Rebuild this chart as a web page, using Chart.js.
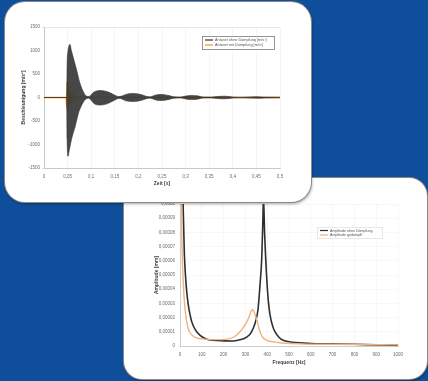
<!DOCTYPE html>
<html>
<head>
<meta charset="utf-8">
<script src="https://cdn.jsdelivr.net/npm/chart.js@4/dist/chart.umd.min.js"></script>
<style>
  html, body { margin: 0; padding: 0; }
  body { width: 428px; height: 381px; background: #0f4e9b; position: relative; overflow: hidden; }
  .card { position: absolute; background: #fff; box-shadow: 0 0 0 1px #8a8a8a, 1px 2px 3px rgba(0,0,0,0.35); }
  #cardTime { left: 5px; top: 2px; width: 306px; height: 200px; border-radius: 20px; z-index: 2; }
  #cardFreq { left: 124px; top: 178px; width: 303px; height: 201px; border-radius: 18px; z-index: 1; }
  .card canvas { position: absolute; left: 0; top: 0; }
</style>
</head>
<body>
<div class="card" id="cardFreq"><canvas id="freqChart" width="303" height="201"></canvas></div>
<div class="card" id="cardTime"><canvas id="timeChart" width="306" height="200"></canvas></div>

<script>
/* ── Data: time response ── */
const timeS     = [0, 0.048, 0.049, 0.051, 0.053, 0.055, 0.058, 0.062, 0.066, 0.070, 0.074, 0.078, 0.082, 0.086, 0.090,
                   0.095, 0.100, 0.105, 0.112, 0.120, 0.128, 0.135, 0.142, 0.150, 0.158, 0.165, 0.172, 0.180, 0.190,
                   0.200, 0.210, 0.218, 0.226, 0.234, 0.245, 0.255, 0.265, 0.275, 0.290, 0.300, 0.312, 0.325, 0.337,
                   0.355, 0.366, 0.383, 0.400, 0.420, 0.436, 0.452, 0.468, 0.500];
const darkUpper = [0, 0, 700, 1000, 1100, 1130, 1000, 850, 700, 550, 380, 250, 150, 70, 30,
                   20, 60, 110, 140, 150, 140, 120, 90, 50, 20, 30, 60, 80, 85,
                   75, 50, 20, 15, 45, 65, 60, 40, 15, 10, 30, 45, 35, 10,
                   8, 20, 28, 10, 6, 12, 16, 8, 5];
const darkLower = [0, 0, -900, -1250, -1150, -1050, -900, -750, -620, -450, -300, -200, -120, -60, -25,
                   -15, -60, -120, -155, -160, -150, -130, -95, -55, -20, -30, -65, -80, -85,
                   -75, -50, -20, -15, -45, -65, -60, -40, -15, -10, -30, -45, -35, -10,
                   -8, -20, -28, -10, -6, -12, -16, -8, -5];
const orangeT   = [0, 0.047, 0.0482, 0.0486, 0.049, 0.0494, 0.0498, 0.0502, 0.0506, 0.051, 0.0514, 0.0518, 0.0522,
                   0.0527, 0.0532, 0.0538, 0.0545, 0.0552, 0.056, 0.058, 0.060, 0.062, 0.065, 0.068, 0.072, 0.080, 0.500];
const orangeV   = [0, 0, 150, -220, 330, -300, 320, -280, 300, -250, 260, -220, 200,
                   -170, 150, -130, 110, -90, 70, -55, 45, -35, 25, -18, 10, 5, 0];
const timeLegend = ['Antwort ohne Dämpfung [m/s²]', 'Antwort mit Dämpfung [m/s²]'];

/* ── Data: frequency response ── */
const blackHz   = [10, 15, 20, 25, 31, 38, 45, 54, 70, 92, 120, 151, 200, 243, 280, 306, 322, 336, 348, 358, 367,
                   375, 380, 383, 388, 397, 405, 413, 425, 436, 455, 473, 518, 600, 700, 800, 900, 1000];
const blackAmp  = [14, 9.5, 6.5, 5, 3.8, 2.9, 2.3, 1.7, 1.15, 0.75, 0.5, 0.4, 0.36, 0.35, 0.45, 0.63, 0.85, 1.25, 1.8, 2.6, 4.3,
                   6.2, 8.8, 10.5, 8, 5, 3.2, 2.2, 1.4, 1.0, 0.6, 0.4, 0.26, 0.18, 0.15, 0.12, 0.08, 0.05];
const orangeHz  = [3, 8, 15, 23, 37, 50, 69, 100, 150, 200, 250, 275, 295, 306, 318, 328, 335, 342, 351, 360, 367,
                   380, 398, 450, 550, 700, 850, 1000];
const orangeAmp = [14, 8, 4.5, 2.6, 1.25, 0.85, 0.6, 0.5, 0.45, 0.45, 0.65, 1.0, 1.4, 1.7, 2.1, 2.5, 2.55, 2.3, 1.9, 1.4, 1.0,
                   0.6, 0.4, 0.25, 0.15, 0.12, 0.1, 0.08];
const ampTickLabels = ['0', '0,00001', '0,00002', '0,00003', '0,00004', '0,00005',
                       '0,00006', '0,00007', '0,00008', '0,00009', '0,0001'];
const freqLegend = ['Amplitude ohne Dämpfung', 'Amplitude gedämpft'];

/* ── Shared style ── */
const DARK   = '#2f2f2f';
const ORANGE = '#f7921e';
const PEACH  = '#f2b27c';
const tickFont  = { family: "'Liberation Sans', Arial, sans-serif", size: 4.5 };
const titleFont = { family: "'Liberation Sans', Arial, sans-serif", size: 5, weight: 'bold' };
const tickColor = '#6b6b6b';

const boxLegend = {
  id: 'boxLegend',
  afterDraw(chart, args, o) {
    const ctx = chart.ctx;
    ctx.save();
    ctx.fillStyle = '#fff';
    ctx.fillRect(o.x, o.y, o.w, o.h);
    ctx.strokeStyle = o.border;
    ctx.lineWidth = 0.8;
    ctx.strokeRect(o.x + 0.5, o.y + 0.5, o.w, o.h);
    ctx.font = `${o.size}px 'Liberation Sans', Arial, sans-serif`;
    ctx.textBaseline = 'middle';
    o.items.forEach((it, i) => {
      const yy = o.y + o.pad + i * o.gap;
      ctx.strokeStyle = it.color;
      ctx.lineWidth = 1.2;
      ctx.beginPath();
      ctx.moveTo(o.x + 3, yy);
      ctx.lineTo(o.x + 3 + o.line, yy);
      ctx.stroke();
      ctx.fillStyle = '#555';
      ctx.fillText(it.text, o.x + 5 + o.line, yy);
    });
    ctx.restore();
  }
};

const edgeGrid = (lo, hi, col) => ctx =>
  (ctx.tick && (ctx.tick.value === lo || ctx.tick.value === hi)) ? col : 'rgba(0,0,0,0)';

/* ── Time chart ── */
new Chart(document.getElementById('timeChart'), {
  type: 'line',
  data: {
    datasets: [
      {
        label: 'upper',
        data: timeS.map((t, i) => ({ x: t, y: darkUpper[i] })),
        borderColor: DARK,
        borderWidth: 0.6,
        backgroundColor: 'rgba(55,55,55,0.92)',
        pointRadius: 0,
        fill: '+1',
        cubicInterpolationMode: 'monotone'
      },
      {
        label: 'lower',
        data: timeS.map((t, i) => ({ x: t, y: darkLower[i] })),
        borderColor: DARK,
        borderWidth: 0.6,
        pointRadius: 0,
        fill: false,
        cubicInterpolationMode: 'monotone'
      },
      {
        label: timeLegend[1],
        data: orangeT.map((t, i) => ({ x: t, y: orangeV[i] })),
        borderColor: ORANGE,
        borderWidth: 1.5,
        pointRadius: 0,
        fill: false,
        tension: 0
      }
    ]
  },
  plugins: [boxLegend],
  options: {
    responsive: false,
    animation: false,
    layout: { padding: { top: 25, right: 31, left: 14, bottom: 15 } },
    plugins: {
      legend: { display: false },
      tooltip: { enabled: false },
      boxLegend: {
        x: 197, y: 34, w: 72, h: 13, pad: 4, gap: 5, line: 8, size: 3.8, border: '#7a7a7a',
        items: [{ color: DARK, text: timeLegend[0] }, { color: ORANGE, text: timeLegend[1] }]
      }
    },
    scales: {
      x: {
        type: 'linear', min: 0, max: 0.5,
        ticks: { stepSize: 0.05, color: tickColor, font: tickFont, padding: 4,
                 callback: v => (Math.round(v * 100) / 100).toString().replace('.', ',') },
        grid: { color: 'rgba(0,0,0,0.07)', tickLength: 2, lineWidth: 0.6 },
        border: { color: '#c8c8c8' },
        title: { display: true, text: 'Zeit [s]', color: '#444', font: titleFont, padding: { top: 0, bottom: 0 } },
        afterFit: s => { s.height = 19; }
      },
      y: {
        min: -1500, max: 1500,
        ticks: { stepSize: 500, color: tickColor, font: tickFont, padding: 2, callback: v => String(v) },
        grid: { color: edgeGrid(-1500, 1500, '#d9d9d9'), tickLength: 2, lineWidth: 0.6 },
        border: { color: '#c8c8c8' },
        title: { display: true, text: 'Beschleunigung [m/s²]', color: '#444', font: titleFont, padding: { top: 2, bottom: 0 } },
        afterFit: s => { s.width = 25; }
      }
    }
  }
});

/* ── Frequency chart ── */
new Chart(document.getElementById('freqChart'), {
  type: 'line',
  data: {
    datasets: [
      {
        label: freqLegend[1],
        data: orangeHz.map((f, i) => ({ x: f, y: orangeAmp[i] })),
        borderColor: PEACH,
        borderWidth: 1.4,
        pointRadius: 0,
        fill: false,
        cubicInterpolationMode: 'monotone'
      },
      {
        label: freqLegend[0],
        data: blackHz.map((f, i) => ({ x: f, y: blackAmp[i] })),
        borderColor: DARK,
        borderWidth: 1.6,
        pointRadius: 0,
        fill: false,
        cubicInterpolationMode: 'monotone'
      }
    ]
  },
  plugins: [boxLegend],
  options: {
    responsive: false,
    animation: false,
    layout: { padding: { top: 26, right: 29, left: 28, bottom: 13 } },
    plugins: {
      legend: { display: false },
      tooltip: { enabled: false },
      boxLegend: {
        x: 193, y: 49, w: 65, h: 11, pad: 3.5, gap: 4.5, line: 8, size: 3.6, border: '#e2e2e2',
        items: [{ color: DARK, text: freqLegend[0] }, { color: PEACH, text: freqLegend[1] }]
      }
    },
    scales: {
      x: {
        type: 'linear', min: 0, max: 1000,
        ticks: { stepSize: 100, color: tickColor, font: tickFont, padding: 4, callback: v => String(v) },
        grid: { color: 'rgba(0,0,0,0.06)', tickLength: 2, lineWidth: 0.6 },
        border: { color: '#cfcfcf' },
        title: { display: true, text: 'Frequenz [Hz]', color: '#444', font: titleFont, padding: { top: 1, bottom: 0 } },
        afterFit: s => { s.height = 20; }
      },
      y: {
        min: 0, max: 10,
        ticks: { stepSize: 1, color: tickColor, font: tickFont, padding: 3,
                 callback: (v, i) => ampTickLabels[i] },
        grid: { color: 'rgba(0,0,0,0.05)', tickLength: 2, lineWidth: 0.6 },
        border: { color: '#cfcfcf' },
        title: { display: true, text: 'Amplitude [mm]', color: '#444', font: titleFont, padding: { top: 2, bottom: 0 } },
        afterFit: s => { s.width = 28; }
      }
    }
  }
});
</script>
</body>
</html>
